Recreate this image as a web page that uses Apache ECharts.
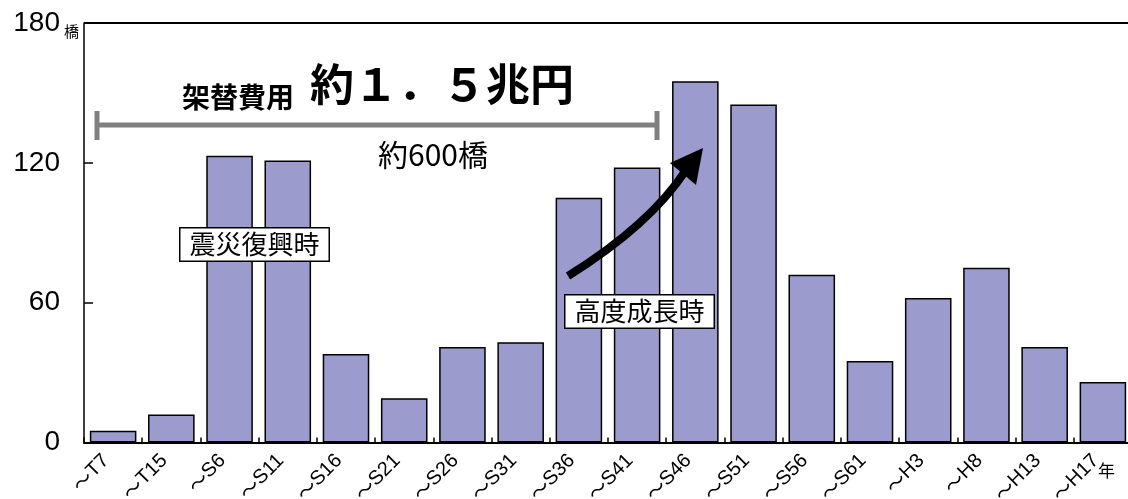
<!DOCTYPE html>
<html>
<head>
<meta charset="utf-8">
<script src="https://cdn.jsdelivr.net/npm/echarts@6/dist/echarts.min.js"></script>
<style>
html,body{margin:0;padding:0;background:#fff;}
#c{width:1128px;height:499px;}
</style>
</head>
<body>
<div id="c"></div>
<script>
var categories = ['～T7','～T15','～S6','～S11','～S16','～S21','～S26','～S31','～S36','～S41','～S46','～S51','～S56','～S61','～H3','～H8','～H13','～H17'];
var bridgeCounts = [5, 12, 123, 121, 38, 19, 41, 43, 105, 118, 155, 145, 72, 35, 62, 75, 41, 26];
var yTicks = [0, 60, 120, 180];

var JP = '"Noto Sans CJK JP", "Liberation Sans", sans-serif';
var EN = '"Liberation Sans", Arial, sans-serif';

var chart = echarts.init(document.getElementById('c'));
chart.setOption({
  animation: false,
  backgroundColor: '#fff',
  grid: { left: 84, top: 23, width: 1048, height: 419.5, containLabel: false, outerBoundsMode: 'none' },
  xAxis: {
    type: 'category',
    data: categories,
    boundaryGap: true,
    axisLine: { show: true, lineStyle: { color: '#000', width: 2 } },
    axisTick: { show: true, inside: true, length: 5, interval: 0, alignWithLabel: false, lineStyle: { color: '#000', width: 1.5 } },
    axisLabel: {
      interval: 0, rotate: 45, margin: 8, color: '#000', padding: [0, 10, 0, 0],
      formatter: function (v) { return '{t|' + v.charAt(0) + '}{s|' + v.slice(1) + '}'; },
      rich: {
        t: { fontSize: 20, fontFamily: JP, color: '#000' },
        s: { fontSize: 20, fontFamily: EN, color: '#000' }
      }
    }
  },
  yAxis: {
    type: 'value',
    min: yTicks[0],
    max: yTicks[yTicks.length - 1],
    interval: yTicks[1] - yTicks[0],
    axisLine: { show: true, lineStyle: { color: '#000', width: 1.5 } },
    axisTick: { show: true, inside: true, length: 9, lineStyle: { color: '#000', width: 1.5 } },
    axisLabel: { fontSize: 28, color: '#000', margin: 24, fontFamily: EN },
    splitLine: { show: true, lineStyle: { color: ['rgba(0,0,0,0)', 'rgba(0,0,0,0)', 'rgba(0,0,0,0)', '#000'], width: 2 } }
  },
  series: [{
    type: 'bar',
    data: bridgeCounts,
    barCategoryGap: '20%',
    itemStyle: { color: '#9b9bcd', borderColor: '#000', borderWidth: 1.5 }
  }],
  graphic: [
    { type: 'text', left: 64, top: 24, style: { text: '橋', font: '15px ' + JP, fill: '#000' }, z: 10 },
    // bracket
    { type: 'line', shape: { x1: 97, y1: 125, x2: 657, y2: 125 }, style: { stroke: '#808080', lineWidth: 5 }, z: 10 },
    { type: 'line', shape: { x1: 97, y1: 111, x2: 97, y2: 140 }, style: { stroke: '#808080', lineWidth: 5 }, z: 10 },
    { type: 'line', shape: { x1: 657, y1: 111, x2: 657, y2: 140 }, style: { stroke: '#808080', lineWidth: 5 }, z: 10 },
    { type: 'text', left: 182, top: 83, style: { text: '架替費用', font: 'bold 28px ' + JP, fill: '#000' }, z: 10 },
    { type: 'text', left: 310, top: 62, style: { text: '約１．５兆円', font: 'bold 44px ' + JP, fill: '#000' }, z: 10 },
    { type: 'text', left: 378, top: 140, style: { text: '約600橋', font: '30px ' + JP, fill: '#000' }, z: 10 },
    // boxes
    { type: 'text', left: 179, top: 227, style: { text: '震災復興時', font: '26px ' + JP, fill: '#000', backgroundColor: '#fff', borderColor: '#000', borderWidth: 1.5, padding: [3, 9, 3, 9] }, z: 10 },
    { type: 'text', left: 564, top: 294, style: { text: '高度成長時', font: '26px ' + JP, fill: '#000', backgroundColor: '#fff', borderColor: '#000', borderWidth: 1.5, padding: [3, 9, 3, 9] }, z: 10 },
    // arrow
    { type: 'bezierCurve', shape: { x1: 568, y1: 276, cpx1: 650, cpy1: 225, x2: 686, y2: 170 }, style: { stroke: '#000', lineWidth: 8, fill: null }, z: 10 },
    { type: 'polygon', shape: { points: [[703, 148], [670, 163], [696, 185]] }, style: { fill: '#000' }, z: 10 },
    // year unit
    { type: 'text', left: 1098, top: 462, style: { text: '年', font: '17px ' + JP, fill: '#000' }, z: 10 }
  ]
});
</script>
</body>
</html>
